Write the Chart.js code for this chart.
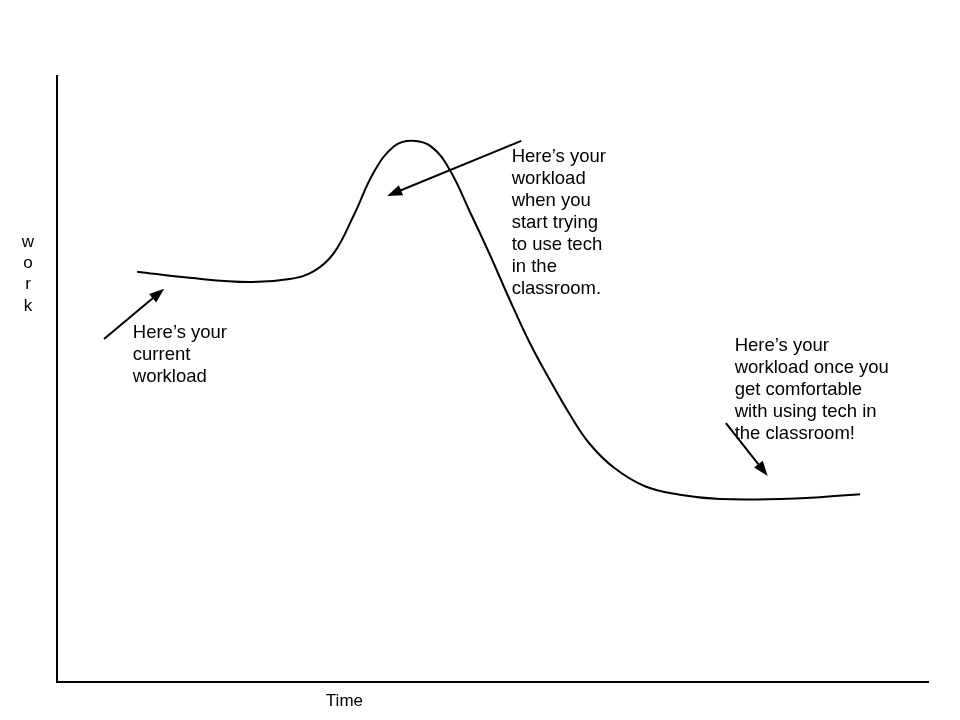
<!DOCTYPE html>
<html>
<head>
<meta charset="utf-8">
<script src="https://cdn.jsdelivr.net/npm/chart.js@4/dist/chart.umd.min.js"></script>
<style>
  html, body { margin: 0; padding: 0; background: #fff; }
  #wrap { width: 960px; height: 720px; }
</style>
</head>
<body>
<div id="wrap"><canvas id="c" width="960" height="720"></canvas></div>
<script>
// ---- data (time vs work, arbitrary units 0..100) ----
const timeValues = [9.2, 15.2, 22.1, 26.7, 29.5, 31.8, 34.1, 36.4, 38.7, 40.8, 43.0, 45.1, 47.4, 49.7, 52.0, 54.3, 56.6, 58.9, 61.1, 64.0, 67.5, 71.5, 76.1, 83.0, 87.6, 92.2];
const workValues = [67.7, 66.7, 66.0, 66.5, 67.8, 70.8, 77.1, 84.2, 88.4, 89.3, 88.3, 84.5, 77.6, 70.5, 63.0, 55.9, 49.8, 44.1, 39.4, 35.3, 32.3, 30.9, 30.2, 30.2, 30.5, 31.0];
const xAxisTitle = "Time";
const yAxisTitle = "work";

const noteTexts = [
  ["Here\u2019s your", "current", "workload"],
  ["Here\u2019s your", "workload", "when you", "start trying", "to use tech", "in the", "classroom."],
  ["Here\u2019s your", "workload once you", "get comfortable", "with using tech in", "the classroom!"]
];
// anchors (data units): first text line (left, middle), arrow tail and head
const noteAnchors = [
  { text: [8.7, 57.6], from: [5.4, 56.6], to: [12.3, 64.9] },
  { text: [52.2, 86.7], from: [53.3, 89.3], to: [37.9, 80.2] },
  { text: [77.8, 55.4], from: [76.8, 42.7], to: [81.6, 34.0] }
];

const FONT = '"Liberation Sans", Arial, sans-serif';

const notesPlugin = {
  id: 'notes',
  afterDraw(chart) {
    const ctx = chart.ctx;
    const xs = chart.scales.x, ys = chart.scales.y;
    const area = chart.chartArea;
    ctx.save();
    ctx.fillStyle = '#000';
    ctx.strokeStyle = '#000';
    ctx.font = '18.5px ' + FONT;
    ctx.textBaseline = 'middle';
    ctx.textAlign = 'left';
    noteTexts.forEach((lines, i) => {
      const a = noteAnchors[i];
      const tx = xs.getPixelForValue(a.text[0]);
      const ty = ys.getPixelForValue(a.text[1]);
      lines.forEach((ln, j) => ctx.fillText(ln, tx, ty + j * 22));
      // arrow
      const x1 = xs.getPixelForValue(a.from[0]), y1 = ys.getPixelForValue(a.from[1]);
      const x2 = xs.getPixelForValue(a.to[0]), y2 = ys.getPixelForValue(a.to[1]);
      const ang = Math.atan2(y2 - y1, x2 - x1);
      const hl = 15, hw = 5.5;
      ctx.lineWidth = 2;
      ctx.beginPath();
      ctx.moveTo(x1, y1);
      ctx.lineTo(x2 - Math.cos(ang) * (hl - 2), y2 - Math.sin(ang) * (hl - 2));
      ctx.stroke();
      ctx.beginPath();
      ctx.moveTo(x2, y2);
      ctx.lineTo(x2 - Math.cos(ang) * hl - Math.sin(ang) * hw, y2 - Math.sin(ang) * hl + Math.cos(ang) * hw);
      ctx.lineTo(x2 - Math.cos(ang) * hl + Math.sin(ang) * hw, y2 - Math.sin(ang) * hl - Math.cos(ang) * hw);
      ctx.closePath();
      ctx.fill();
    });
    // axis titles
    ctx.font = '17px ' + FONT;
    ctx.textAlign = 'center';
    const letters = yAxisTitle.split('');
    const yTop = ys.getPixelForValue(72.6);
    letters.forEach((ch, j) => ctx.fillText(ch, area.left - 29, yTop + j * 21.3));
    ctx.fillText(xAxisTitle, xs.getPixelForValue(33), area.bottom + 19);
    ctx.restore();
  }
};

new Chart(document.getElementById('c'), {
  type: 'line',
  data: {
    datasets: [{
      data: timeValues.map((t, i) => ({ x: t, y: workValues[i] })),
      borderColor: '#000',
      borderWidth: 2,
      pointRadius: 0,
      fill: false,
      tension: 0.4
    }]
  },
  options: {
    responsive: false,
    animation: false,
    devicePixelRatio: 1,
    layout: { padding: { left: 57, top: 76, right: 32, bottom: 38 } },
    plugins: { legend: { display: false }, tooltip: { enabled: false }, title: { display: false } },
    scales: {
      x: {
        type: 'linear', min: 0, max: 100,
        ticks: { display: false },
        grid: { display: false, drawTicks: false },
        border: { display: true, color: '#000', width: 2 }
      },
      y: {
        type: 'linear', min: 0, max: 100,
        ticks: { display: false },
        grid: { display: false, drawTicks: false },
        border: { display: true, color: '#000', width: 2 }
      }
    }
  },
  plugins: [notesPlugin]
});
</script>
</body>
</html>
